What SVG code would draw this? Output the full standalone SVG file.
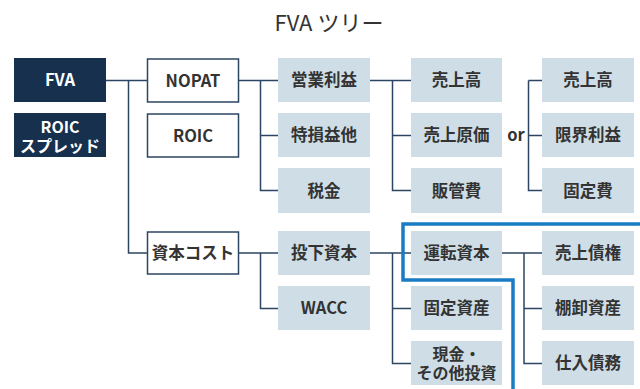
<svg xmlns="http://www.w3.org/2000/svg" width="640" height="389" viewBox="0 0 640 389">
<style>
text{font-family:"Noto Sans CJK JP","Noto Sans",sans-serif;}
.t{font-size:16.5px;font-weight:700;fill:#333;text-anchor:middle;}
.t2{font-size:16px;font-weight:700;fill:#333;text-anchor:middle;}
.tw{font-size:16.5px;font-weight:700;fill:#fff;text-anchor:middle;}
.dk{fill:#16304e;}
.wh{fill:#fff;stroke:#2c4562;stroke-width:1.5;}
.lt{fill:#cedde6;}
.ln{fill:none;stroke:#2c4562;stroke-width:1.5;}
.bl{fill:none;stroke:#1a7cc4;stroke-width:3.5;}
</style>
<rect width="640" height="389" fill="#fff"/>
<text x="329" y="31" style="font-size:22px;fill:#333;text-anchor:middle">FVA ツリー</text>
<g id="connectors">
<path class="ln" d="M106 80.5H147.5M128.5 80.5V253H147.5"/>
<path class="ln" d="M238.5 80.5H278M260.5 80.5V190.5H278M260.5 135.5H278"/>
<path class="ln" d="M370 80.5H411M392.5 80.5V190.5H411M392.5 135.5H411"/>
<path class="ln" d="M528.5 80.5H542M528.5 80.5V190.5H542M528.5 135.5H542"/>
<path class="ln" d="M238.5 253H278M260.5 253V308.5H278"/>
<path class="ln" d="M370 253H411M392.5 253V363.5H411M392.5 308.5H411"/>
<path class="ln" d="M502 253H542M524 253V363.5H542M524 308.5H542"/>
</g>
<g id="n-fva"><rect class="dk" x="14" y="58" width="92" height="44"/><text class="tw" x="60" y="86">FVA</text></g>
<g id="n-spread"><rect class="dk" x="14" y="113" width="92" height="44"/><text class="tw" style="font-size:16px"><tspan x="60" y="133">ROIC</tspan><tspan x="60" y="151.5">スプレッド</tspan></text></g>
<g id="n-nopat"><rect class="wh" x="147.5" y="59" width="91" height="43"/><text class="t" x="193" y="86.5">NOPAT</text></g>
<g id="n-roic"><rect class="wh" x="147.5" y="114" width="91" height="43"/><text class="t" x="193" y="141.5">ROIC</text></g>
<g id="n-cost"><rect class="wh" x="147.5" y="232" width="91" height="42"/><text class="t" x="193" y="259">資本コスト</text></g>
<g id="n-op"><rect class="lt" x="278" y="58" width="92" height="44"/><text class="t" x="324" y="86">営業利益</text></g>
<g id="n-special"><rect class="lt" x="278" y="113" width="92" height="44"/><text class="t" x="324" y="141">特損益他</text></g>
<g id="n-tax"><rect class="lt" x="278" y="168" width="92" height="45"/><text class="t" x="324" y="196.5">税金</text></g>
<g id="n-invest"><rect class="lt" x="278" y="231" width="92" height="44"/><text class="t" x="324" y="259">投下資本</text></g>
<g id="n-wacc"><rect class="lt" x="278" y="286" width="92" height="44"/><text class="t" x="324" y="314">WACC</text></g>
<g id="n-sales1"><rect class="lt" x="411" y="58" width="91" height="44"/><text class="t" x="456.5" y="86">売上高</text></g>
<g id="n-cogs"><rect class="lt" x="411" y="113" width="91" height="44"/><text class="t" x="456.5" y="141">売上原価</text></g>
<g id="n-sga"><rect class="lt" x="411" y="168" width="91" height="45"/><text class="t" x="456.5" y="196.5">販管費</text></g>
<g id="n-wc"><rect class="lt" x="411" y="231" width="91" height="44"/><text class="t" x="456.5" y="259">運転資本</text></g>
<g id="n-fixed"><rect class="lt" x="411" y="286" width="91" height="44"/><text class="t" x="456.5" y="314">固定資産</text></g>
<g id="n-cash"><rect class="lt" x="411" y="341" width="91" height="44"/><text class="t2"><tspan x="456.5" y="360">現金・</tspan><tspan x="456.5" y="378.5">その他投資</tspan></text></g>
<text class="t" x="516" y="141">or</text>
<g id="n-sales2"><rect class="lt" x="542" y="58" width="92" height="44"/><text class="t" x="588" y="86">売上高</text></g>
<g id="n-margin"><rect class="lt" x="542" y="113" width="92" height="44"/><text class="t" x="588" y="141">限界利益</text></g>
<g id="n-fixedcost"><rect class="lt" x="542" y="168" width="92" height="45"/><text class="t" x="588" y="196.5">固定費</text></g>
<g id="n-ar"><rect class="lt" x="542" y="231" width="92" height="44"/><text class="t" x="588" y="259">売上債権</text></g>
<g id="n-inv"><rect class="lt" x="542" y="286" width="92" height="44"/><text class="t" x="588" y="314">棚卸資産</text></g>
<g id="n-ap"><rect class="lt" x="542" y="341" width="92" height="44"/><text class="t" x="588" y="369">仕入債務</text></g>
<path class="bl" d="M640 224H403V280H513V389"/>
</svg>
